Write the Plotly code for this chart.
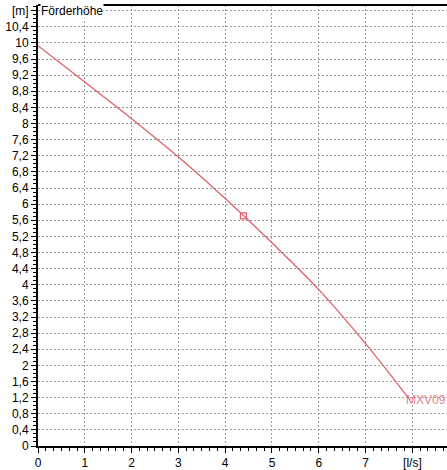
import plotly.graph_objects as go

# Pump curve data (flow [l/s], head [m])
flow = [0, 1, 2, 3, 4, 5, 6, 7, 7.95]
head = [9.93, 9.03, 8.12, 7.17, 6.14, 5.04, 3.88, 2.54, 1.14]
duty_flow = [4.39]
duty_head = [5.71]
series_name = "MXV09"

x_tickvals = [0, 1, 2, 3, 4, 5, 6, 7, 8]
x_ticktext = ["0", "1", "2", "3", "4", "5", "6", "7", "[l/s]"]
y_tickvals = [round(0.4 * i, 1) for i in range(28)]
y_ticktext = [("%g" % v).replace(".", ",") for v in y_tickvals[:-1]] + ["[m]"]

red = "#e0606c"
font = "Liberation Sans, Arial, sans-serif"
grid = "#9c9c9c"

fig = go.Figure()
fig.add_trace(go.Scatter(x=flow, y=head, mode="lines", line=dict(color=red, width=1.3, shape="spline"),
                         showlegend=False, hoverinfo="skip"))
fig.add_trace(go.Scatter(x=duty_flow, y=duty_head, mode="markers",
                         marker=dict(symbol="square-open", size=6, color=red, line=dict(width=1.2)),
                         showlegend=False, hoverinfo="skip"))
fig.add_annotation(x=flow[-1], y=head[-1], text=series_name, showarrow=False, xanchor="left",
                   xshift=-6, yshift=0, font=dict(family=font, size=12, color="#e8808a"))
fig.add_annotation(x=0, y=10.8, xref="x", yref="y", text="Förderhöhe", showarrow=False,
                   xanchor="left", xshift=2, bgcolor="white", borderpad=0,
                   font=dict(family=font, size=12, color="black"))
fig.add_shape(type="line", xref="paper", yref="paper", x0=0, x1=1, y0=1, y1=1,
              line=dict(color="black", width=2))

fig.update_layout(
    width=447, height=470, margin=dict(l=38, r=0, t=5, b=18),
    plot_bgcolor="white", paper_bgcolor="white",
    font=dict(family=font, size=12, color="black"),
    xaxis=dict(range=[0, 8.74], tickvals=x_tickvals, ticktext=x_ticktext, ticks="outside",
               ticklen=5, tickwidth=1, tickcolor="black", showline=True, linecolor="black",
               linewidth=2, showgrid=True, gridcolor=grid, griddash="2px,2px", gridwidth=1,
               zeroline=False,
               minor=dict(dtick=1/6, tick0=0, ticks="outside", ticklen=3, tickcolor="black",
                          showgrid=False)),
    yaxis=dict(range=[0, 10.94], tickvals=y_tickvals, ticktext=y_ticktext, ticks="outside",
               ticklen=5, tickwidth=1, tickcolor="black", showline=True, linecolor="black",
               linewidth=2, showgrid=True, gridcolor=grid, griddash="2px,2px", gridwidth=1,
               zeroline=False,
               minor=dict(dtick=0.1, tick0=0, ticks="outside", ticklen=3, tickcolor="black",
                          showgrid=False)),
)
fig.write_html("out.html", config={"displayModeBar": False},
               post_script="document.body.style.margin='0';document.body.style.overflow='hidden';")
